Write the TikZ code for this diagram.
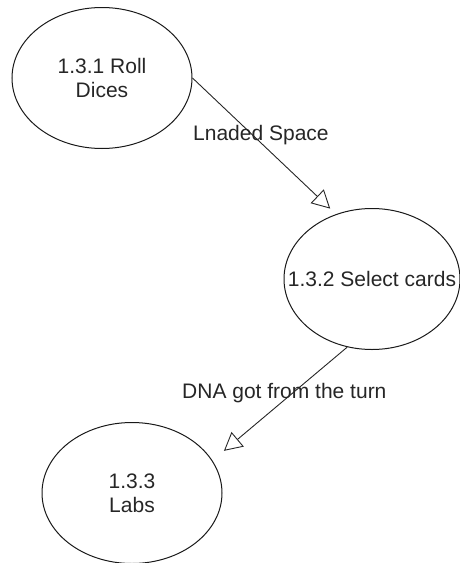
\documentclass[tikz,border=0pt]{standalone}
\usepackage{fontspec}
\setmainfont{Liberation Sans}
\usetikzlibrary{arrows.meta,shapes.geometric}

\begin{document}
\begin{tikzpicture}[x=1pt,y=-1pt,
    proc/.style={draw=black!90,ellipse,minimum width=180pt,minimum height=141pt,inner sep=0pt,line width=1pt},
    flow/.style={draw=black!85,line width=0.9pt,-{Triangle[open,length=18pt,width=19pt]}},
    flowtext/.style={inner sep=0pt,font=\fontsize{21}{24}\selectfont,text=black!85},
    every label/.style={align=center,font=\fontsize{21}{24}\selectfont,text=black!85}]
    \useasboundingbox (0,0) rectangle (460,563);
    % processes
    \node[proc,label=center:{1.3.1 Roll\\Dices}] (roll) at (102,78) {};
    \node[proc,minimum width=176pt,label=center:{1.3.2 Select cards}] (select) at (372,279) {};
    \node[proc,label=center:{1.3.3\\Labs}] (labs) at (132,493) {};
    % data flows
    \draw[flow,shorten >=8pt] (roll.east) -- (select.119);
    \node[flowtext,anchor=base west] (space) at (193,140) {Lnaded Space};
    \draw[flow,shorten >=15pt] (select.250) -- (labs.22);
    \node[flowtext,anchor=base west] (dna) at (182,398) {DNA got from the turn};
\end{tikzpicture}
\end{document}
